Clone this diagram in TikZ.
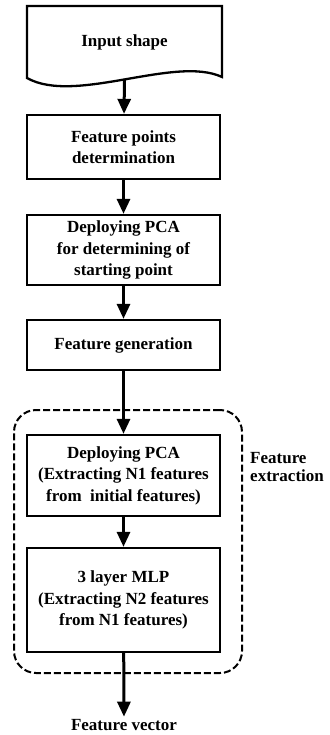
\documentclass[tikz,border=0pt]{standalone}
\usepackage{fontspec}
\setmainfont{Liberation Serif}
\usetikzlibrary{arrows.meta}
\begin{document}
\begin{tikzpicture}[x=1pt,y=-1pt,
  every node/.style={font=\fontsize{17}{21.5}\selectfont\bfseries},
  stepbox/.style={draw, line width=2.3pt, minimum width=193pt, align=center, inner sep=0pt},
  flow/.style={line width=3pt, -{Triangle[width=13pt,length=15pt]}},
  grpbox/.style={draw, line width=2pt, dash pattern=on 7pt off 3pt, rounded corners=22pt}]
\useasboundingbox (0,0) rectangle (329,735);
% input (document shape)
\draw[line width=2.3pt] (27,6) -- (222,6) -- (222,77)
   .. controls (175,55) and (75,105) .. (27,78) -- cycle;
\node (in) at (124.5,42) {Input shape};
\coordinate (inb) at (124.5,80);
\node[stepbox, minimum height=64pt] (fp) at (123.5,147) {Feature points\\determination};
\node[stepbox, minimum height=70pt] (pca1) at (123.5,250) {Deploying PCA\\for determining of\\starting point};
\node[stepbox, minimum height=50pt] (gen) at (123.5,345) {Feature generation};
\node[grpbox, minimum width=228pt, minimum height=263pt] (grp) at (128,541.5) {};
\node[stepbox, minimum height=81pt] (pca2) at (123.5,475.5) {Deploying PCA\\(Extracting N1 features\\from~~initial features)};
\node[stepbox, minimum height=104pt] (mlp) at (123.5,600) {3 layer MLP\\(Extracting N2 features\\from N1 features)};
\node[anchor=north west, align=left, font=\fontsize{17}{18}\selectfont\bfseries, inner sep=0pt] (lbl) at (250,452) {Feature\\extraction};
\node[anchor=base, inner sep=2pt] (fv) at (124,730) {Feature vector};
\draw[flow] (inb) -- (fp);
\draw[flow] (fp) -- (pca1);
\draw[flow] (pca1) -- (gen);
\draw[flow] (gen) -- (pca2);
\draw[flow] (pca2) -- (mlp);
\draw[flow] (mlp) -- (fv);
\end{tikzpicture}
\end{document}
